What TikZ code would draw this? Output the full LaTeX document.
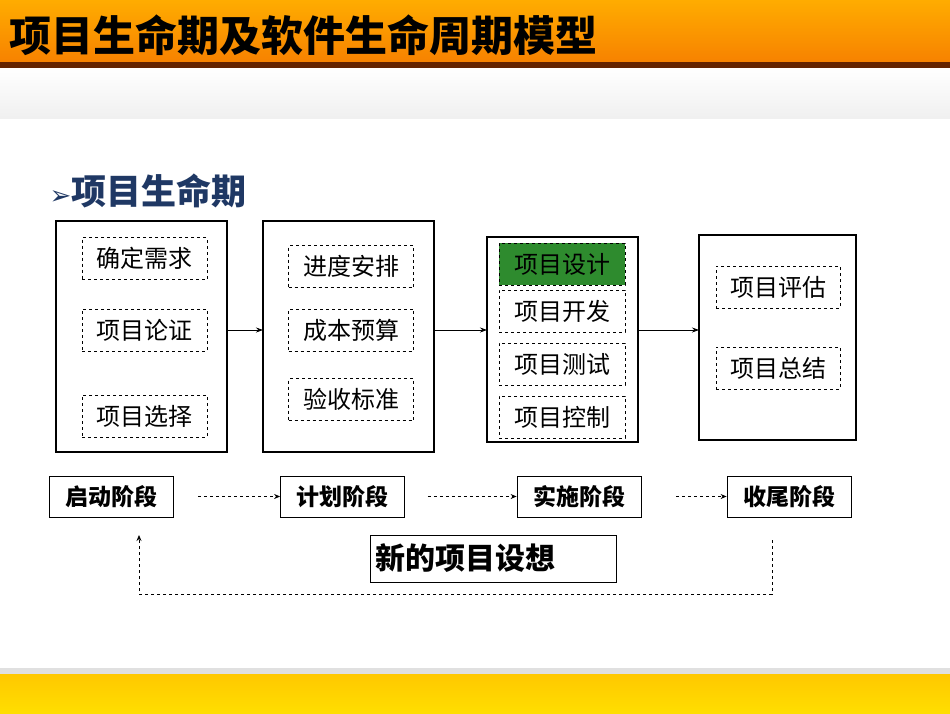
\documentclass[tikz,border=0pt]{standalone}
\usepackage{fontspec}
\setmainfont{Noto Sans CJK SC}
\newfontfamily\arr{DejaVu Sans}
\usetikzlibrary{arrows.meta}
\definecolor{hdrA}{RGB}{255,172,0}
\definecolor{hdrB}{RGB}{247,130,0}
\definecolor{hdrLine}{RGB}{100,35,0}
\definecolor{subBlue}{RGB}{31,56,100}
\definecolor{gBox}{RGB}{46,139,46}
\definecolor{goldA}{RGB}{255,200,0}
\definecolor{goldB}{RGB}{255,222,0}
\tikzset{
 big/.style={draw,line width=2.2pt},
 sub/.style={draw,dashed,line width=0.7pt,minimum width=125pt,minimum height=42pt,inner sep=0pt,font=\fontsize{24}{24}\selectfont},
 phase/.style={draw,line width=0.8pt,minimum width=124pt,minimum height=41pt,inner sep=0pt,font=\bfseries\fontsize{23}{23}\selectfont},
 arr/.style={-{Stealth[length=7pt,width=5pt]},line width=0.8pt},
 darr/.style={-{Stealth[length=6pt,width=5pt]},dashed,line width=0.8pt}
}
\begin{document}
\begin{tikzpicture}[x=1pt,y=-1pt]
\useasboundingbox (0,0) rectangle (950,713);
\fill[white] (0,0) rectangle (950,713);
\shade[top color=hdrA,bottom color=hdrB] (0,0) rectangle (950,62);
\fill[hdrLine] (0,62) rectangle (950,68);
\shade[top color=white,bottom color=black!6] (0,68) rectangle (950,118);
\fill[black!12] (0,668) rectangle (950,674);
\shade[top color=goldA,bottom color=goldB] (0,674) rectangle (950,713);
\node[anchor=west,font=\bfseries\fontsize{42}{42}\selectfont] (title) at (6,35) {项目生命期及软件生命周期模型};
\node[anchor=west,text=subBlue,font=\bfseries\fontsize{35}{35}\selectfont] (subt) at (46,191) {{\arr\fontsize{26}{26}\selectfont ➢}项目生命期};
% big boxes
\draw[big] (56,221) rectangle (227,452);
\draw[big] (263,221) rectangle (434,452);
\draw[big] (487,237) rectangle (638,442);
\draw[big] (699,235) rectangle (856,440);
\coordinate (b1e) at (227,330); \coordinate (b2w) at (263,330);
\coordinate (b2e) at (434,330); \coordinate (b3w) at (487,330);
\coordinate (b3e) at (638,330); \coordinate (b4w) at (699,330);
\node[sub] (s11) at (144.5,258.5) {确定需求};
\node[sub] (s12) at (144.5,330) {项目论证};
\node[sub] (s13) at (144.5,416) {项目选择};
\node[sub] (s21) at (351,266.5) {进度安排};
\node[sub] (s22) at (351,330) {成本预算};
\node[sub] (s23) at (351,399.5) {验收标准};
\node[sub,fill=gBox,minimum width=126pt] (s31) at (562,264) {项目设计};
\node[sub,minimum width=126pt] (s32) at (562,311) {项目开发};
\node[sub,minimum width=126pt] (s33) at (562,364) {项目测试};
\node[sub,minimum width=126pt] (s34) at (562,417) {项目控制};
\node[sub,minimum width=124pt] (s41) at (778,287) {项目评估};
\node[sub,minimum width=124pt] (s42) at (778,368) {项目总结};
\draw[arr] (b1e) -- (b2w);
\draw[arr] (b2e) -- (b3w);
\draw[arr] (b3e) -- (b4w);
% phases
\node[phase] (p1) at (111,496.5) {启动阶段};
\node[phase] (p2) at (342.5,496.5) {计划阶段};
\node[phase] (p3) at (579,496.5) {实施阶段};
\node[phase] (p4) at (789,496.5) {收尾阶段};
\draw[darr] ([xshift=25pt]p1.east) -- (p2.west);
\draw[darr] ([xshift=23pt]p2.east) -- (p3.west);
\draw[darr] ([xshift=35pt]p3.east) -- (p4.west);
\node[draw,line width=0.8pt,minimum width=246pt,minimum height=47pt,inner sep=0pt,text width=236pt,align=left,font=\bfseries\fontsize{30}{30}\selectfont] (idea) at (493,558.5) {新的项目设想};
\coordinate (lt) at (772,540);
\coordinate (lb) at (772,594);
\coordinate (rb) at (139,594);
\coordinate (rt) at (139,535);
\draw[darr] (lt) -- (lb) -- (rb) -- (rt);
\end{tikzpicture}
\end{document}
